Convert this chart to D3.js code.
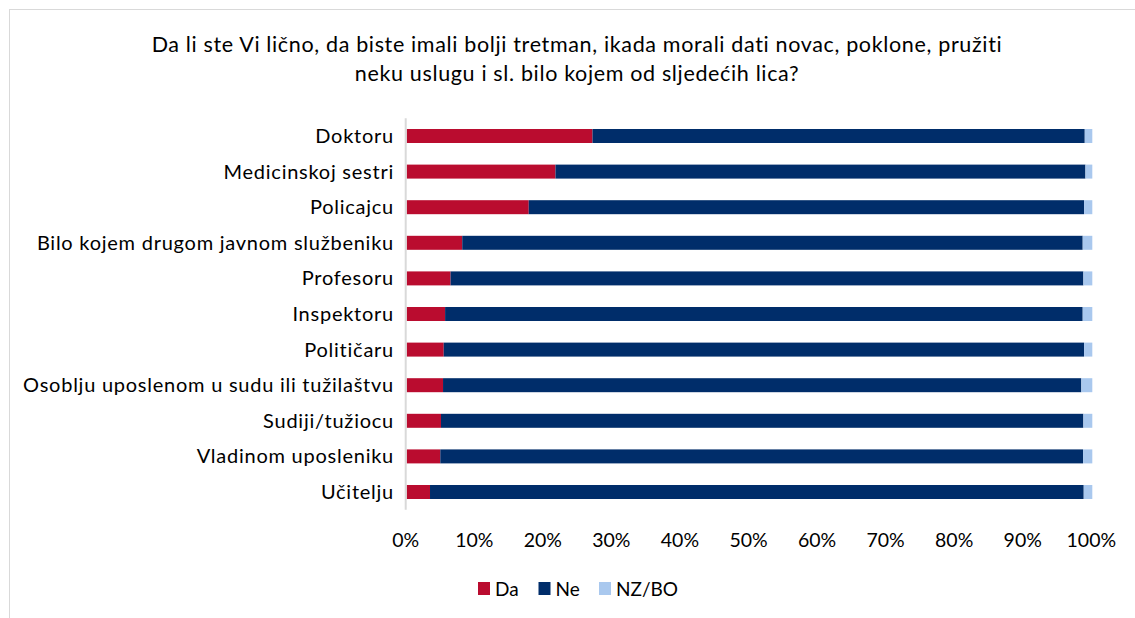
<!DOCTYPE html>
<html>
<head>
<meta charset="utf-8">
<script src="https://cdn.jsdelivr.net/npm/d3@7"></script>
<style>
  html, body { margin: 0; padding: 0; background: #fff; }
  svg { display: block; }
  text { font-family: "Lato", "Open Sans", sans-serif; fill: #000; }
</style>
</head>
<body>
<svg id="chart" width="1135" height="618"></svg>
<script>
const categories = [
  "Doktoru",
  "Medicinskoj sestri",
  "Policajcu",
  "Bilo kojem drugom javnom službeniku",
  "Profesoru",
  "Inspektoru",
  "Političaru",
  "Osoblju uposlenom u sudu ili tužilaštvu",
  "Sudiji/tužiocu",
  "Vladinom uposleniku",
  "Učitelju"
];
const da   = [27.1, 21.7, 17.8, 8.1, 6.4, 5.6, 5.4, 5.3, 5.0, 4.9, 3.4];
const ne   = [71.8, 77.3, 81.0, 90.5, 92.3, 93.0, 93.4, 93.1, 93.7, 93.75, 95.35];
const nzbo = [1.1, 1.0, 1.2, 1.4, 1.3, 1.4, 1.2, 1.6, 1.3, 1.35, 1.25];
const seriesNames = ["Da", "Ne", "NZ/BO"];
const seriesColors = ["#BA0C2F", "#002D6A", "#A9C8EE"];
const tickValues = [0, 10, 20, 30, 40, 50, 60, 70, 80, 90, 100];
const titleLines = [
  "Da li ste Vi lično, da biste imali bolji tretman, ikada morali dati novac, poklone, pružiti",
  "neku uslugu i sl. bilo kojem od sljedećih lica?"
];

const svg = d3.select("#chart");

// outer border
svg.append("rect")
  .attr("x", 9.5).attr("y", 9.5)
  .attr("width", 1140).attr("height", 620)
  .attr("fill", "none").attr("stroke", "#D9D9D9").attr("stroke-width", 1);

// title
svg.append("g").selectAll("text").data(titleLines).join("text")
  .attr("x", 577).attr("y", (d, i) => 52 + i * 29)
  .attr("text-anchor", "middle")
  .style("font-size", "21.5px")
  .style("letter-spacing", "0.65px")
  .text(d => d);

const x = d3.scaleLinear().domain([0, 100]).range([406.7, 1092.3]);
const y = d3.scaleBand().domain(categories).range([118.2, 509.8]).paddingInner(0.607).paddingOuter(0.3035);

const rows = categories.map((c, i) => ({ cat: c, Da: da[i], Ne: ne[i], "NZ/BO": nzbo[i] }));
const stack = d3.stack().keys(seriesNames)(rows);

svg.append("g").selectAll("g").data(stack).join("g")
  .attr("fill", (d, i) => seriesColors[i])
  .selectAll("rect").data(d => d).join("rect")
  .attr("x", d => x(d[0]))
  .attr("y", d => y(d.data.cat))
  .attr("width", d => x(d[1]) - x(d[0]))
  .attr("height", y.bandwidth());

// y axis line
svg.append("line")
  .attr("x1", 405.7).attr("x2", 405.7)
  .attr("y1", y.range()[0]).attr("y2", y.range()[1])
  .attr("stroke", "#D9D9D9").attr("stroke-width", 2);

// category labels
svg.append("g").selectAll("text").data(categories).join("text")
  .attr("x", 394)
  .attr("y", d => y(d) + y.bandwidth() / 2)
  .attr("dy", "0.35em")
  .attr("text-anchor", "end")
  .style("font-size", "20px")
  .style("letter-spacing", "0.75px")
  .text(d => d);

// x tick labels
svg.append("g").selectAll("text").data(tickValues).join("text")
  .attr("x", d => x(d) - 1)
  .attr("y", 547)
  .attr("text-anchor", "middle")
  .style("font-size", "19.5px")
  .text(d => d + "%");

// legend
const legendX = [478, 538.5, 599];
const lg = svg.append("g").selectAll("g").data(seriesNames).join("g")
  .attr("transform", (d, i) => `translate(${legendX[i]},582)`);
lg.append("rect").attr("width", 12).attr("height", 13).attr("fill", (d, i) => seriesColors[i]);
lg.append("text").attr("x", 17).attr("y", 13.5)
  .style("font-size", "19px").text(d => d);
</script>
</body>
</html>
